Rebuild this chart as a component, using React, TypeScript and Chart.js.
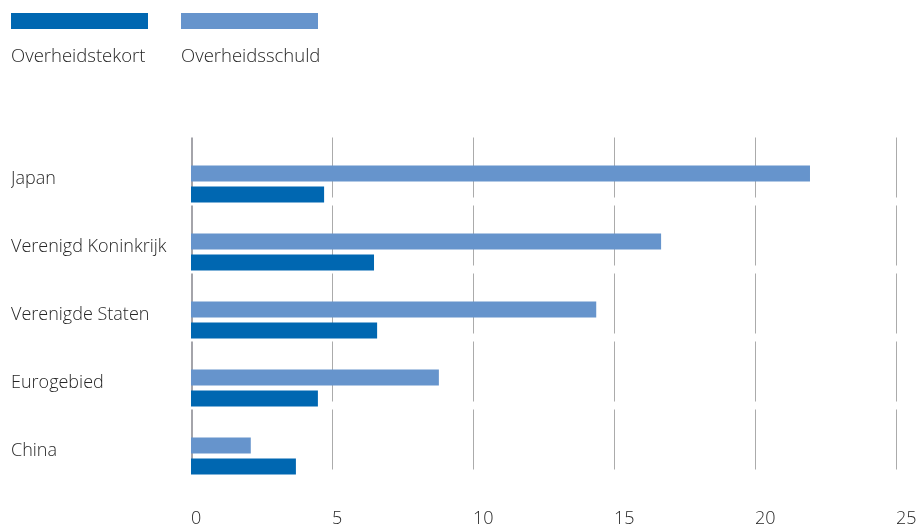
import React, { useEffect, useRef } from "react";
import { Chart, registerables } from "chart.js";

Chart.register(...registerables);

const categories = ["Japan", "Verenigd Koninkrijk", "Verenigde Staten", "Eurogebied", "China"];
const schuldValues = [21.95, 16.67, 14.37, 8.79, 2.12];
const tekortValues = [4.72, 6.49, 6.6, 4.5, 3.72];
const seriesNames = ["Overheidstekort", "Overheidsschuld"];
const tickValues = [0, 5, 10, 15, 20, 25];

const DARK = "#0067b1";
const LIGHT = "#6694cc";
const TEXT = "#262626";
const FONT = "'Open Sans', 'Liberation Sans', Arial, sans-serif";

const segmentGrid = {
  id: "segmentGrid",
  beforeDatasetsDraw(chart: any) {
    const ctx = chart.ctx;
    const xs = chart.scales.x;
    const ys = chart.scales.y;
    ctx.save();
    categories.forEach((_, i) => {
      const c = ys.getPixelForValue(i);
      const y0 = c - 46.5;
      const y1 = c + 13.5;
      tickValues.forEach((v) => {
        const x = xs.getPixelForValue(v);
        ctx.beginPath();
        if (v === 0) {
          ctx.strokeStyle = "#a4a4aa";
          ctx.lineWidth = 2;
          ctx.moveTo(Math.round(x) + 1, y0);
          ctx.lineTo(Math.round(x) + 1, y1);
        } else {
          ctx.strokeStyle = "#ababab";
          ctx.lineWidth = 1;
          ctx.moveTo(Math.round(x) + 0.5, y0);
          ctx.lineTo(Math.round(x) + 0.5, y1);
        }
        ctx.stroke();
      });
    });
    ctx.restore();
  },
};

export default function App() {
  const ref = useRef<HTMLCanvasElement | null>(null);

  useEffect(() => {
    document.body.style.margin = "0";
    if (!ref.current) return;
    const chart = new Chart(ref.current, {
      type: "bar",
      data: {
        labels: categories,
        datasets: [
          {
            label: seriesNames[1],
            data: schuldValues,
            backgroundColor: LIGHT,
            categoryPercentage: 0.62,
            barPercentage: 0.762,
          },
          {
            label: seriesNames[0],
            data: tekortValues,
            backgroundColor: DARK,
            categoryPercentage: 0.62,
            barPercentage: 0.762,
          },
        ],
      },
      options: {
        indexAxis: "y",
        animation: false,
        responsive: false,
        maintainAspectRatio: false,
        layout: { padding: { left: 11, right: 22, top: 150, bottom: 0 } },
        plugins: {
          legend: { display: false },
          tooltip: { enabled: false },
        },
        scales: {
          x: {
            min: 0,
            max: 25,
            afterBuildTicks(scale: any) {
              scale.ticks = tickValues.map((v) => ({ value: v }));
            },
            afterFit(scale: any) {
              scale.height = 38;
              scale.paddingLeft = 0;
              scale.paddingRight = 0;
            },
            grid: { display: false, drawTicks: false },
            border: { display: false },
            ticks: {
              align: "start",
              padding: 18,
              color: TEXT,
              font: { family: FONT, size: 18, weight: "300" },
            },
          },
          y: {
            afterFit(scale: any) {
              scale.width = 180;
            },
            grid: { display: false, drawTicks: false },
            border: { display: false },
            ticks: {
              crossAlign: "far",
              labelOffset: -5,
              color: TEXT,
              font: { family: FONT, size: 18, weight: "300" },
            },
          },
        },
      },
      plugins: [segmentGrid],
    } as any);
    return () => chart.destroy();
  }, []);

  const legendItems = [
    { name: seriesNames[0], color: DARK, left: 11 },
    { name: seriesNames[1], color: LIGHT, left: 181 },
  ];

  return (
    <div style={{ position: "relative", width: 918, height: 528, background: "#fff" }}>
      <canvas ref={ref} width={918} height={528} style={{ position: "absolute", left: 0, top: 0 }} />
      {legendItems.map((it) => (
        <div key={it.name} style={{ position: "absolute", left: it.left, top: 13 }}>
          <div style={{ width: 137, height: 16, background: it.color }} />
          <div
            style={{
              marginTop: 14,
              fontFamily: FONT,
              fontSize: 18.5,
              fontWeight: 300,
              lineHeight: "24px",
              color: TEXT,
              whiteSpace: "nowrap",
            }}
          >
            {it.name}
          </div>
        </div>
      ))}
    </div>
  );
}
